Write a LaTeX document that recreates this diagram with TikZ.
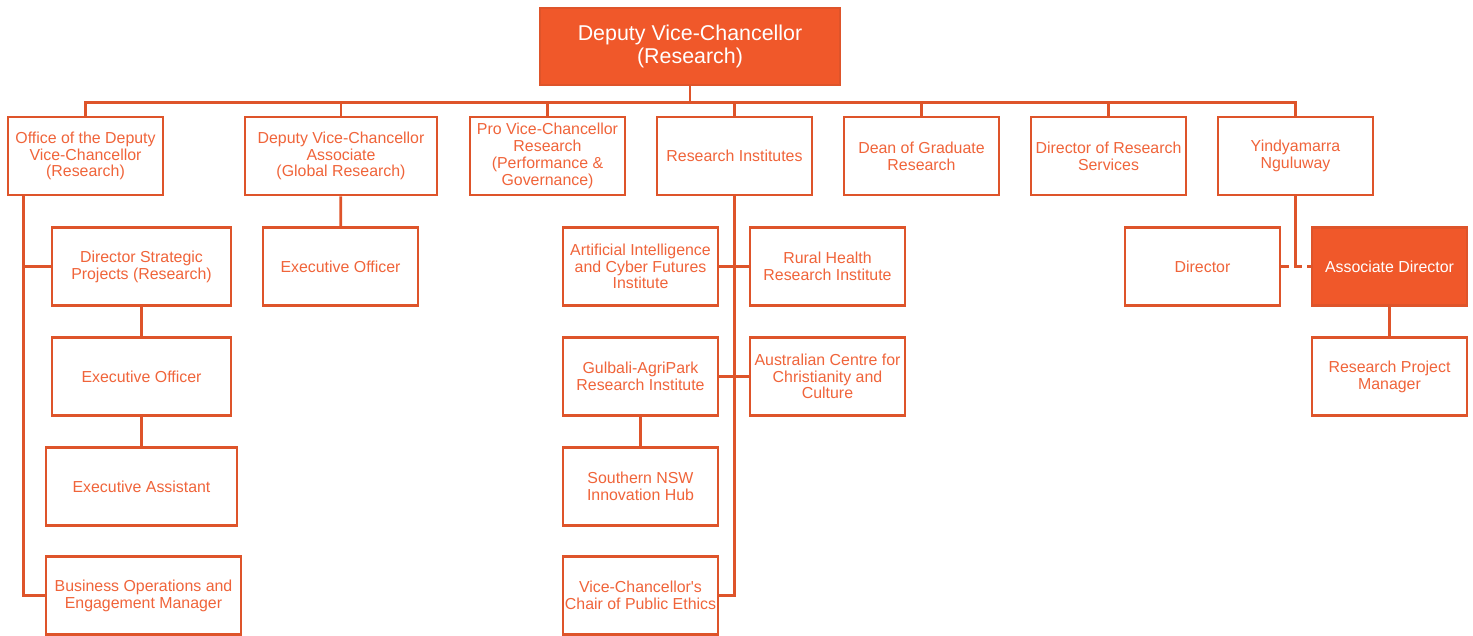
\documentclass[tikz,border=0pt]{standalone}
\usepackage{fontspec}
\setmainfont{Liberation Sans}
\definecolor{stk}{RGB}{222,84,42}
\definecolor{txt}{RGB}{240,100,58}
\definecolor{fil}{RGB}{240,88,42}
\begin{document}
\begin{tikzpicture}[x=1pt,y=-1pt,
  box/.style={draw=stk,line width=2.8pt,fill=white,text=txt,align=center,
    minimum width=155,minimum height=78,inner sep=1pt,
    font=\fontsize{15.9}{16.8}\selectfont},
  hbox/.style={box,fill=fil,text=white},
  conn/.style={draw=stk,line width=2.8pt}]
\useasboundingbox (0,0) rectangle (1473,636);
% top
\node[hbox,minimum width=300,minimum height=77,font=\fontsize{21.4}{23}\selectfont] (top) at (690,46.5) {Deputy Vice-Chancellor\\(Research)};
% level 1
\node[box] (o1) at (85.5,156) {Office of the Deputy\\Vice-Chancellor\\(Research)};
\node[box,minimum width=192] (o2) at (341,156) {Deputy Vice-Chancellor\\Associate\\(Global Research)};
\node[box] (o3) at (547.5,156) {Pro Vice-Chancellor\\Research\\(Performance \&\\Governance)};
\node[box] (o4) at (734.5,156) {Research Institutes};
\node[box] (o5) at (921.5,156) {Dean of Graduate\\Research};
\node[box] (o6) at (1108.5,156) {Director of Research\\Services};
\node[box] (o7) at (1295.5,156) {Yindyamarra\\Nguluway};
% left column
\node[box,minimum width=179] (dsp) at (141.5,266.5) {Director Strategic\\Projects (Research)};
\node[box,minimum width=179] (eo1) at (141.5,376.5) {Executive Officer};
\node[box,minimum width=191] (ea) at (141.5,486.5) {Executive Assistant};
\node[box,minimum width=195] (bom) at (143.5,595.5) {Business Operations and\\Engagement Manager};
% DVC associate
\node[box] (eo2) at (340.5,266.5) {Executive Officer};
% research institutes
\node[box] (ai) at (640.5,266.5) {Artificial Intelligence\\and Cyber Futures\\Institute};
\node[box] (rh) at (827.5,266.5) {Rural Health\\Research Institute};
\node[box] (gul) at (640.5,376.5) {Gulbali-AgriPark\\Research Institute};
\node[box] (acc) at (827.5,376.5) {Australian Centre for\\Christianity and\\Culture};
\node[box] (snsw) at (640.5,486.5) {Southern NSW\\Innovation Hub};
\node[box] (vcc) at (640.5,595.5) {Vice-Chancellor\textquotesingle s\\Chair of Public Ethics};
% right
\node[box] (dir) at (1202.5,266.5) {Director};
\node[hbox] (ad) at (1389.5,266.5) {Associate Director};
\node[box] (rpm) at (1389.5,376.5) {Research Project\\Manager};
% connectors
\draw[conn] (top.south) -- ++(0,16.5) coordinate (bus);
\draw[conn] (o1.north) |- (bus) -| (o7.north);
\foreach \n in {o2,o3,o4,o5,o6} \draw[conn] (\n.north) -- (\n.north |- bus);
\coordinate (lc) at ([xshift=16.5]o1.south west);
\draw[conn] (lc) |- (bom.west);
\draw[conn] (dsp.west) -- (dsp.west -| lc);
\draw[conn] (dsp) -- (eo1);
\draw[conn] (eo1) -- (ea);
\draw[conn] (o2) -- (eo2);
\draw[conn] (o4.south) |- (vcc.east);
\draw[conn] (ai) -- (rh);
\draw[conn] (gul) -- (acc);
\draw[conn] (gul) -- (snsw);
\draw[conn,dash pattern=on 8pt off 5pt] (dir) -- (ad);
\draw[conn] (o7.south) -- (o7.south |- dir.east);
\draw[conn] (ad) -- (rpm);
\end{tikzpicture}
\end{document}
